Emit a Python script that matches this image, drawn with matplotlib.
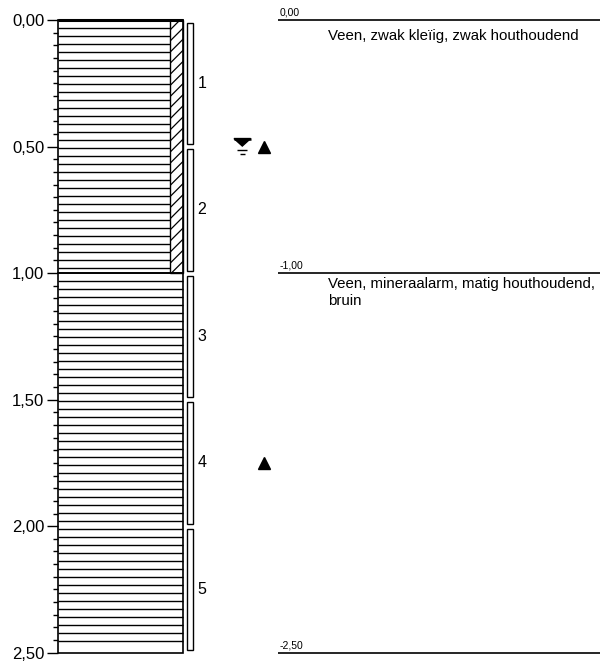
import matplotlib.pyplot as plt
import numpy as np
from matplotlib.patches import Rectangle, Polygon
from matplotlib.ticker import MultipleLocator, FuncFormatter

plt.rcParams["font.family"] = ["Liberation Sans", "DejaVu Sans"]
plt.rcParams["hatch.linewidth"] = 0.9

# layers (depth in m below surface)
layer_top = [0.0, 1.0]
layer_bottom = [1.0, 2.5]
layer_clay_strip = [True, False]
layer_desc = ["Veen, zwak kleïig, zwak houthoudend",
              "Veen, mineraalarm, matig houthoudend,\nbruin"]
layer_boundaries = [0.0, 1.0, 2.5]

# samples
sample_ids = ["1", "2", "3", "4", "5"]
sample_top = [0.01, 0.51, 1.01, 1.51, 2.01]
sample_bottom = [0.49, 0.99, 1.49, 1.99, 2.49]

# water level and measurements
water_level = 0.5
marker_depths = [0.5, 1.75]

fig = plt.figure(figsize=(6.11, 6.66), dpi=100)
ax = fig.add_axes([58.3 / 611, 1 - 652.7 / 666, (600 - 58.3) / 611, (652.7 - 20) / 666])
ax.set_xlim(0, 541.7)
ax.set_ylim(2.5, 0)
for s in ax.spines.values():
    s.set_visible(False)
ax.set_xticks([])

py = 2.5 / 632.7  # metres per pixel
col_w = 124.5
strip_x = 112
step = 8 * py

# boring column
for top, bot, strip in zip(layer_top, layer_bottom, layer_clay_strip):
    w = strip_x if strip else col_w
    ax.add_patch(Rectangle((0, top), col_w, bot - top, fill=False, ec="k", lw=1.2, clip_on=False))
    hl = ax.hlines(np.arange(top + step, bot - step / 2, step), 0, w, color="k", lw=1, clip_on=False)
    hl.set_snap(True)
    if strip:
        ax.add_patch(Rectangle((strip_x, top), col_w - strip_x, bot - top, fill=False,
                               ec="k", lw=1, hatch="///", clip_on=False))
ax.hlines(0, 0, col_w, color="k", lw=2.2, clip_on=False)

# samples
for sid, top, bot in zip(sample_ids, sample_top, sample_bottom):
    ax.add_patch(Rectangle((128.5, top), 6.5, bot - top, fill=False, ec="k", lw=1, clip_on=False))
    ax.text(139, (top + bot) / 2, sid, fontsize=11.5, va="center", ha="left")

# water level symbol
cx = 184
ax.add_patch(Polygon([[cx - 8.3, water_level - 8 * py], [cx + 8.3, water_level - 8 * py],
                      [cx, water_level - 0.5 * py]], closed=True, fc="k", ec="k", lw=1))
ax.hlines(water_level - 7.5 * py, cx - 8.3, cx + 8.3, color="k", lw=1.8)
ax.hlines(water_level + 3 * py, cx - 5, cx + 5, color="k", lw=1)
ax.hlines(water_level + 7 * py, cx - 2.4, cx + 2.4, color="k", lw=1)

# measurement markers
ax.plot([206] * len(marker_depths), marker_depths, ls="none", marker="^",
        ms=8.9, color="k", clip_on=False)

# layer boundaries and descriptions on the right
for d in layer_boundaries:
    ax.hlines(d, 220, 541.7, color="k", lw=1.2, clip_on=False)
    lbl = f"{-d:.2f}".replace(".", ",") if d > 0 else "0,00"
    ax.text(221, d - 2.5 * py, lbl, fontsize=7.5, va="bottom", ha="left")

desc_pad = [9, 4]
for top, desc, pad in zip(layer_top, layer_desc, desc_pad):
    ax.text(270, top + pad * py, desc, fontsize=10.8, va="top", ha="left", linespacing=1.3)

# depth axis
ax.yaxis.set_major_locator(MultipleLocator(0.5))
ax.yaxis.set_minor_locator(MultipleLocator(0.05))
ax.yaxis.set_major_formatter(FuncFormatter(lambda v, p: f"{v:.2f}".replace(".", ",")))
ax.tick_params(axis="y", which="major", length=8, width=1, pad=2, labelsize=12)
ax.tick_params(axis="y", which="minor", length=3.7, width=1)

fig.savefig("out.png", dpi=100)
